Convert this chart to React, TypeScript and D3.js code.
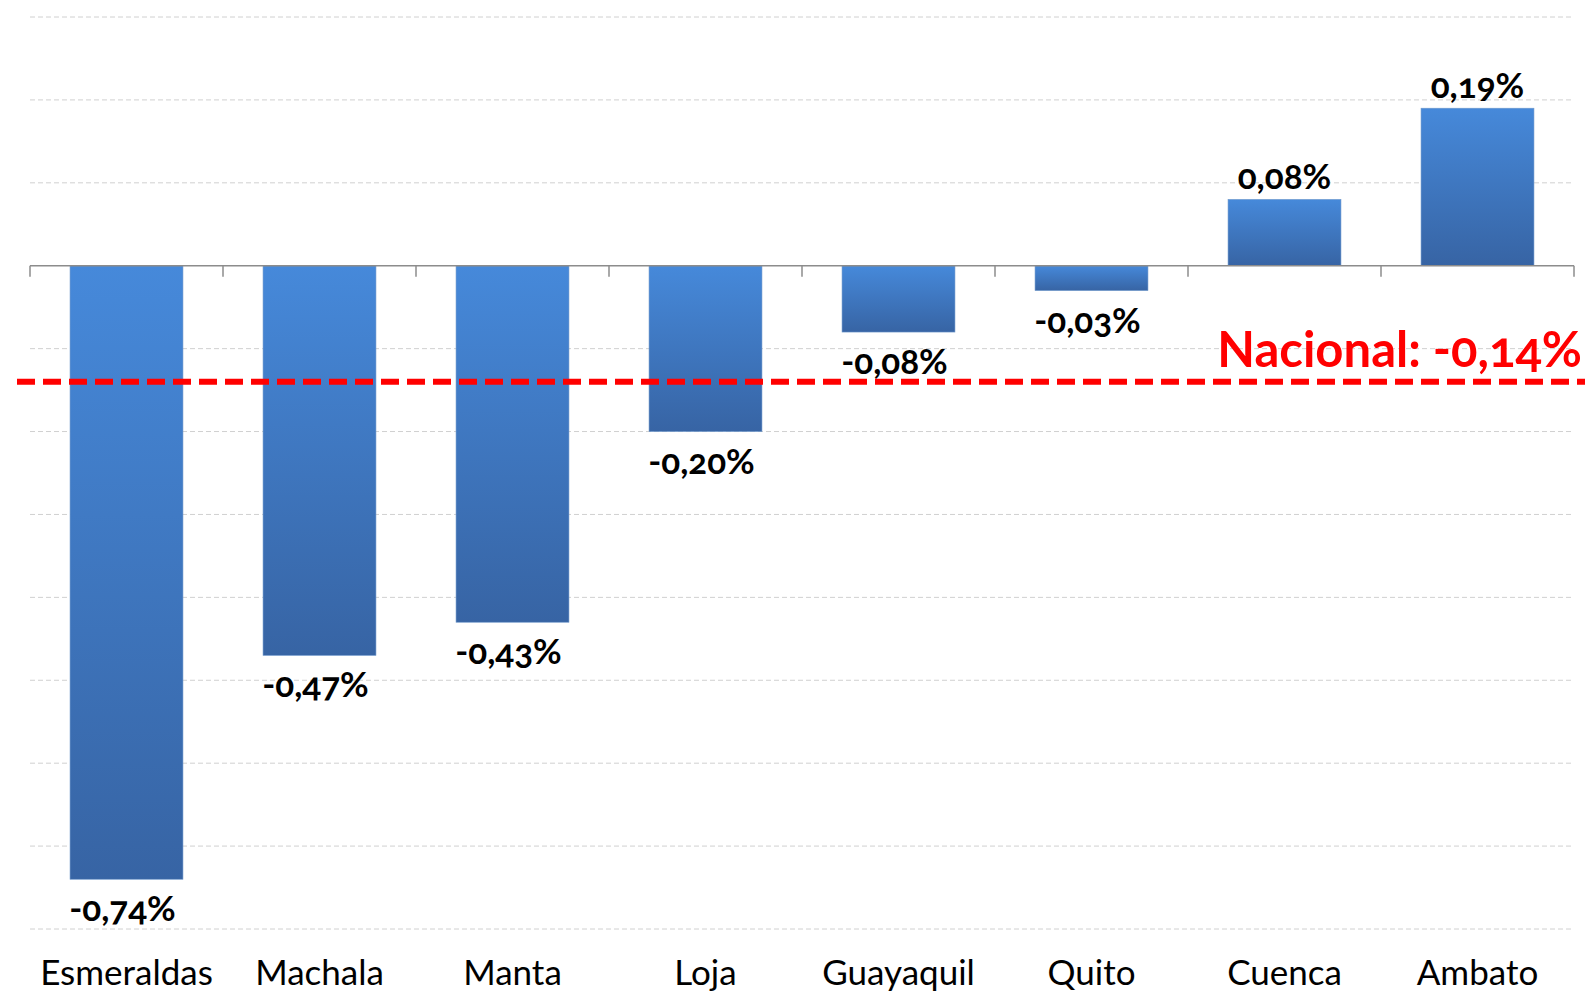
import React, { useEffect, useRef } from 'react';
import * as d3 from 'd3';

const cities = ['Esmeraldas', 'Machala', 'Manta', 'Loja', 'Guayaquil', 'Quito', 'Cuenca', 'Ambato'];
const changes = [-0.74, -0.47, -0.43, -0.2, -0.08, -0.03, 0.08, 0.19];
const gridValues = [0.3, 0.2, 0.1, -0.1, -0.2, -0.3, -0.4, -0.5, -0.6, -0.7, -0.8];
const nationalValue = -0.14;
const nationalLabel = 'Nacional: -0,14%';

const locale = d3.formatLocale({ decimal: ',', thousands: '.', grouping: [3], currency: ['', ''], minus: '-' });
const pct = (v: number) => locale.format('.2f')(v) + '%';

export default function App() {
  const svgRef = useRef<SVGSVGElement>(null);

  useEffect(() => {
    if (!svgRef.current) return;
    const W = 1585;
    const H = 994;
    const svg = d3.select(svgRef.current).attr('width', W).attr('height', H);
    svg.selectAll('*').remove();

    const left = 30;
    const right = 1574;

    const x = d3.scaleBand<string>()
      .domain(cities)
      .range([left, right])
      .paddingInner(0.415)
      .paddingOuter(0.2075);

    const y = d3.scaleLinear().domain([-0.8, 0.3]).range([929, 17]);

    const defs = svg.append('defs');
    const grad = defs.append('linearGradient')
      .attr('id', 'barGrad')
      .attr('x1', 0).attr('y1', 0).attr('x2', 0).attr('y2', 1);
    grad.append('stop').attr('offset', '0%').attr('stop-color', '#4689da');
    grad.append('stop').attr('offset', '100%').attr('stop-color', '#3764a4');

    // gridlines
    svg.append('g')
      .selectAll('line')
      .data(gridValues)
      .join('line')
      .attr('x1', left)
      .attr('x2', right)
      .attr('y1', d => y(d))
      .attr('y2', d => y(d))
      .attr('stroke', '#d0d0d0')
      .attr('stroke-width', 1)
      .attr('stroke-dasharray', '5 3');

    // bars
    svg.append('g')
      .selectAll('rect')
      .data(changes)
      .join('rect')
      .attr('x', (d, i) => x(cities[i])!)
      .attr('y', d => y(Math.max(0, d)))
      .attr('width', x.bandwidth())
      .attr('height', d => Math.abs(y(d) - y(0)))
      .attr('fill', 'url(#barGrad)')
      .attr('stroke', '#6f98cc')
      .attr('stroke-width', 0.6);

    // zero axis with ticks between categories
    const axis = svg.append('g').attr('transform', `translate(0,${y(0)})`);
    axis.append('line')
      .attr('x1', left).attr('x2', right)
      .attr('stroke', '#8c8c8c').attr('stroke-width', 1.5);
    const step = x.step();
    axis.selectAll('line.tick')
      .data(d3.range(cities.length + 1))
      .join('line')
      .attr('class', 'tick')
      .attr('x1', i => left + i * step)
      .attr('x2', i => left + i * step)
      .attr('y1', 0)
      .attr('y2', 11)
      .attr('stroke', '#8c8c8c')
      .attr('stroke-width', 1.5);

    // value labels
    svg.append('g')
      .selectAll('text')
      .data(changes)
      .join('text')
      .attr('x', (d, i) => x(cities[i])! + x.bandwidth() / 2 - (d < 0 ? 4 : 0))
      .attr('y', d => (d >= 0 ? y(d) - 24 : y(d) + 28))
      .attr('dominant-baseline', 'central')
      .attr('text-anchor', 'middle')
      .style('font-family', 'Lato, "Open Sans", sans-serif')
      .style('font-weight', 'bold')
      .style('font-size', '35px')
      .style('font-variant-numeric', 'oldstyle-nums')
      .attr('fill', '#000')
      .text(d => pct(d));

    // category labels
    svg.append('g')
      .selectAll('text')
      .data(cities)
      .join('text')
      .attr('x', d => x(d)! + x.bandwidth() / 2)
      .attr('y', 985)
      .attr('text-anchor', 'middle')
      .style('font-family', 'Lato, "Open Sans", sans-serif')
      .style('font-size', '35px')
      .attr('fill', '#000')
      .text(d => d);

    // national reference line
    svg.append('line')
      .attr('x1', 17)
      .attr('x2', W)
      .attr('y1', y(nationalValue))
      .attr('y2', y(nationalValue))
      .attr('stroke', '#ff0000')
      .attr('stroke-width', 6)
      .attr('stroke-dasharray', '18 8');

    svg.append('text')
      .attr('x', 1582)
      .attr('y', y(nationalValue) - 15)
      .attr('text-anchor', 'end')
      .style('font-family', 'Lato, "Open Sans", sans-serif')
      .style('font-weight', 'bold')
      .style('font-size', '49px')
      .style('font-variant-numeric', 'oldstyle-nums')
      .attr('fill', '#ff0000')
      .text(nationalLabel);
  }, []);

  return (
    <svg ref={svgRef} style={{ position: 'absolute', left: 0, top: 0, background: '#fff' }}></svg>
  );
}
